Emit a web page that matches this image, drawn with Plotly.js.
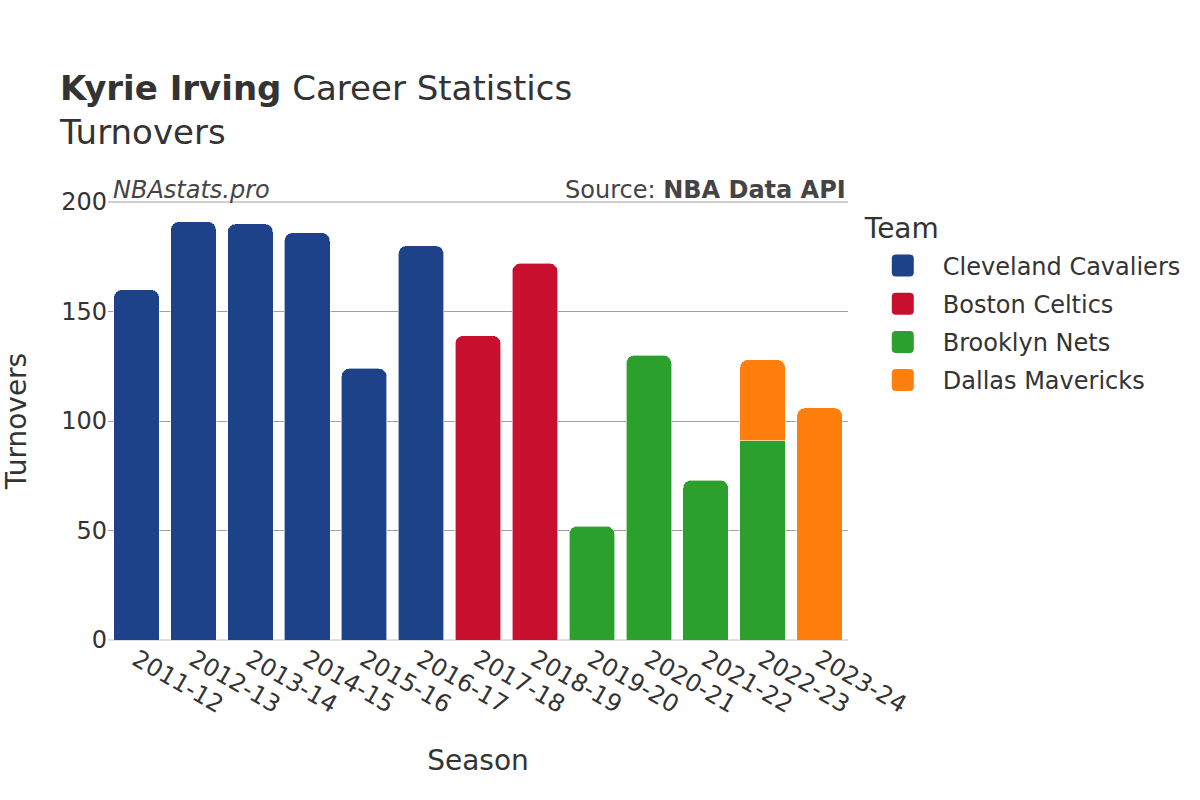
<!DOCTYPE html>
<html>
<head>
<meta charset="utf-8">
<script src="https://cdn.plot.ly/plotly-3.0.1.min.js"></script>
<style>html,body{margin:0;padding:0;background:#fff;}#chart{width:1200px;height:800px;}</style>
</head>
<body>
<div id="chart"></div>
<script>
const seasons = ["2011-12","2012-13","2013-14","2014-15","2015-16","2016-17","2017-18","2018-19","2019-20","2020-21","2021-22","2022-23","2023-24"];
const teams = ["Cleveland Cavaliers","Boston Celtics","Brooklyn Nets","Dallas Mavericks"];
const teamColors = ["#1d428a","#c8102e","#2ca02c","#ff7f0e"];
const cavsSeasons = ["2011-12","2012-13","2013-14","2014-15","2015-16","2016-17"];
const cavsValues = [160,191,190,186,124,180];
const celticsSeasons = ["2017-18","2018-19"];
const celticsValues = [139,172];
const netsSeasons = ["2019-20","2020-21","2021-22","2022-23"];
const netsValues = [52,130,73,91];
const mavsSeasons = ["2022-23","2023-24"];
const mavsValues = [37,106];

const seriesX = [cavsSeasons, celticsSeasons, netsSeasons, mavsSeasons];
const seriesY = [cavsValues, celticsValues, netsValues, mavsValues];

const font = "DejaVu Sans, sans-serif";
const traces = teams.map((t,i)=>({
  type:"bar", name:t, x:seriesX[i], y:seriesY[i], legendgroup:"g"+i,
  marker:{color:teamColors[i], line:{color:"rgba(255,255,255,0.6)", width:1}}
}));

const layout = {
  width:1200, height:800,
  font:{family:font, color:"#333333", size:24},
  paper_bgcolor:"#ffffff", plot_bgcolor:"#ffffff",
  barmode:"stack", bargap:0.2, barcornerradius:8,
  margin:{l:108, r:352, t:202, b:160},
  title:{text:"<b>Kyrie Irving</b> Career Statistics<br>Turnovers", x:0.05, xanchor:"left", y:0.875, yanchor:"top", font:{size:34, family:font, color:"#333333"}},
  xaxis:{type:"category", categoryorder:"array", categoryarray:seasons, tickangle:30, tickfont:{size:24}, title:{text:"Season", font:{size:28}, standoff:32}, showgrid:false, ticks:"", showline:false},
  yaxis:{range:[0,200], dtick:50, tickfont:{size:24}, title:{text:"Turnovers", font:{size:28}, standoff:30}, gridcolor:"#a0a0a0", gridwidth:1, zeroline:true, zerolinecolor:"#e0e0e0", zerolinewidth:2, ticks:"", ticklen:8},
  legend:{x:1.02, y:1.0, xanchor:"left", yanchor:"top", traceorder:"grouped", title:{text:"Team", font:{size:28}}, font:{size:24}, itemwidth:70, itemsizing:"constant", tracegroupgap:4},
  shapes:[{type:"line", xref:"paper", yref:"y domain", x0:0, x1:1, y0:1, y1:1, line:{color:"#a0a0a0", width:1}, layer:"below"}],
  annotations:[
    {text:"<i>NBAstats.pro</i>", xref:"paper", yref:"paper", x:0, y:1, xanchor:"left", yanchor:"bottom", yshift:-4, xshift:3, showarrow:false, font:{size:24, color:"#444444"}},
    {text:"Source: <b>NBA Data API</b>", xref:"paper", yref:"paper", x:1, y:1, xanchor:"right", yanchor:"bottom", yshift:-4, showarrow:false, font:{size:24, color:"#444444"}}
  ],
  showlegend:true
};

function roundSymbols(){
  const s = 11, r = 4;
  const d = `M${-s+r},${-s}H${s-r}Q${s},${-s} ${s},${-s+r}V${s-r}Q${s},${s} ${s-r},${s}H${-s+r}Q${-s},${s} ${-s},${s-r}V${-s+r}Q${-s},${-s} ${-s+r},${-s}Z`;
  document.querySelectorAll('.legend .legendpoints path').forEach(p=>{
    p.setAttribute('d', d);
    p.style.strokeWidth = '0';
  });
  document.querySelectorAll('.legend .scrollbox > .groups').forEach(g=>{
    const t = g.getAttribute('transform') || '';
    g.setAttribute('transform', t + ' translate(0,5)');
  });
}
Plotly.newPlot("chart", traces, layout, {displayModeBar:false}).then(roundSymbols);
</script>
</body>
</html>
